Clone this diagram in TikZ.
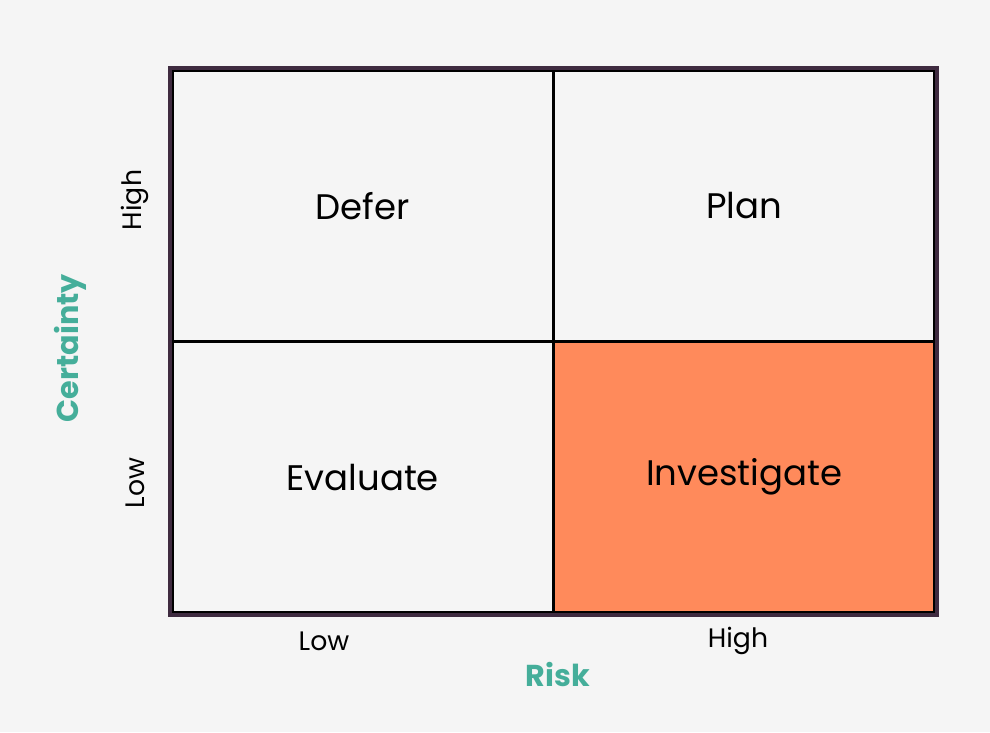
\documentclass[tikz,border=0pt]{standalone}
\usepackage{fontspec}
\setmainfont{Poppins}
\usetikzlibrary{positioning}

\definecolor{bgcol}{HTML}{F5F5F5}
\definecolor{framecol}{HTML}{3F2B40}
\definecolor{hotcol}{HTML}{FF8A5B}
\definecolor{axiscol}{HTML}{45AE9A}

\begin{document}
\begin{tikzpicture}[node distance=2.715cm and 3.815cm,on grid,
  cell/.style={draw=black,line width=0.9pt,minimum width=3.815cm,minimum height=2.715cm,
    inner sep=0pt,font=\fontsize{10.1}{12}\selectfont},
  tick/.style={font=\fontsize{7.6}{9}\selectfont},
  axis/.style={text=axiscol,font=\fontsize{8.6}{10}\selectfont\bfseries}]
\fill[bgcol] (0,0) rectangle (9.90,7.32);
\useasboundingbox (0,0) rectangle (9.90,7.32);
\node[cell] (defer) at (3.6275,5.2625) {Defer};
\node[cell] (plan) [right=of defer] {Plan};
\node[cell] (evaluate) [below=of defer] {Evaluate};
\node[cell,fill=hotcol] (investigate) [right=of evaluate] {Investigate};
\draw[framecol,line width=1.1pt] (defer.north west) rectangle (investigate.south east);
% axis ticks
\node[tick] (risklow) at (3.24,0.91) {Low};
\node[tick] (riskhigh) at (7.38,0.91) {High};
\node[tick,rotate=90] (certhigh) at (1.35,5.32) {High};
\node[tick,rotate=90] (certlow) at (1.35,2.49) {Low};
% axis names
\node[axis] (risk) at (5.58,0.57) {Risk};
\node[axis,rotate=90] (certainty) at (0.70,3.84) {Certainty};
\end{tikzpicture}
\end{document}
